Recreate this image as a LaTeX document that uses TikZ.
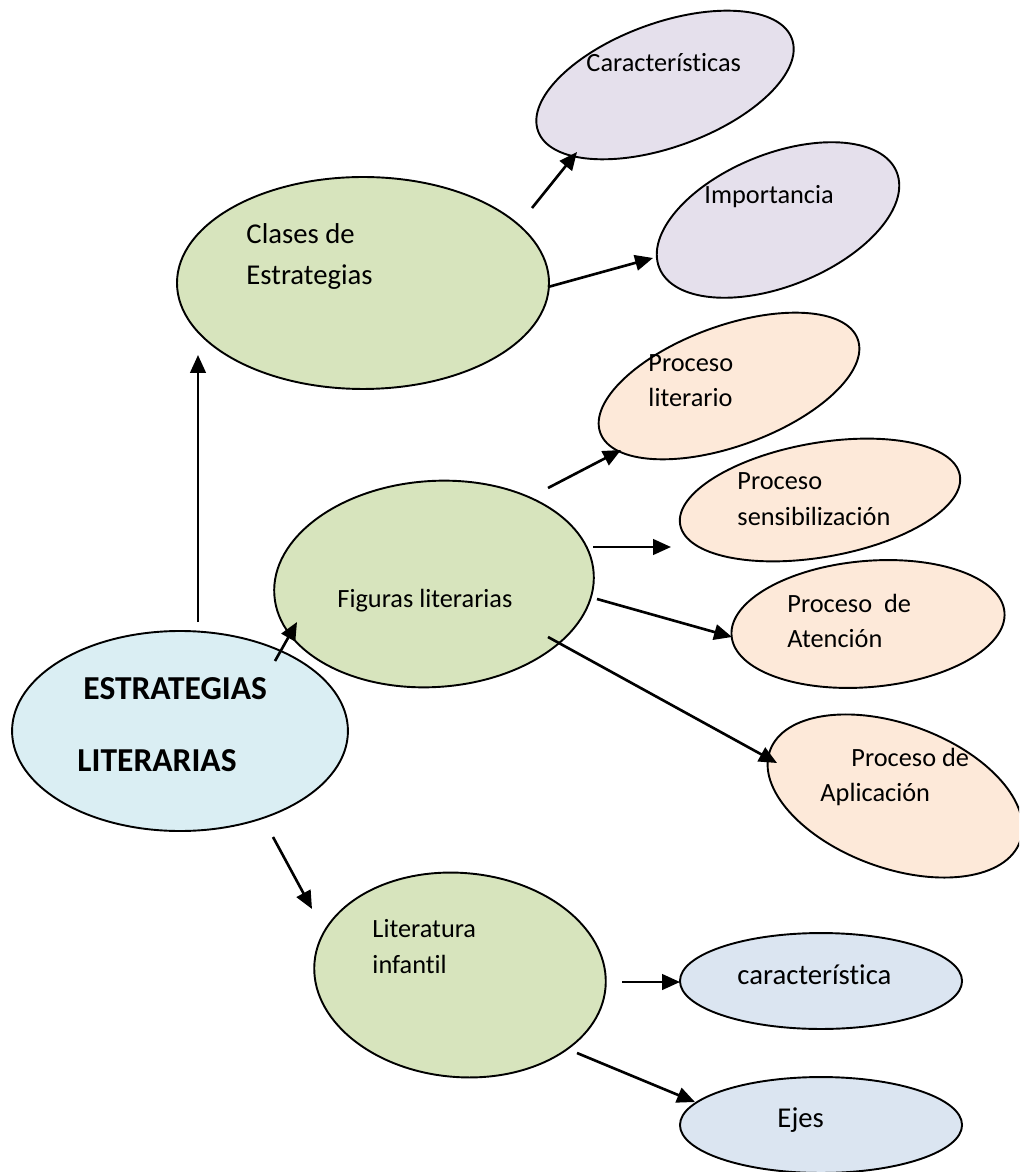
\documentclass[tikz,border=0pt]{standalone}
\usepackage{fontspec}
\setmainfont{Carlito}[Ligatures=NoCommon]
\usetikzlibrary{shapes.geometric,arrows.meta}
\definecolor{verde}{HTML}{D7E4BD}
\definecolor{celeste}{HTML}{DAEEF3}
\definecolor{lila}{HTML}{E5E0EC}
\definecolor{durazno}{HTML}{FDE9D9}
\definecolor{azulgris}{HTML}{DBE5F1}
\tikzstyle{bubble} = [ellipse, draw = black, line width = 0.8pt, inner sep = 0pt]
\tikzstyle{main} = [bubble, fill = celeste, minimum width = 140.4pt, minimum height = 83.6pt]
\tikzstyle{rama} = [bubble, fill = verde]
\tikzstyle{clase} = [bubble, fill = lila]
\tikzstyle{proceso} = [bubble, fill = durazno]
\tikzstyle{hoja} = [bubble, fill = azulgris, minimum width = 117.9pt, minimum height = 40.1pt]
\tikzstyle{txt} = [anchor = base west, inner sep = 0pt, font = \fontsize{11}{13}\selectfont]
\tikzstyle{txtbig} = [txt, font = \fontsize{12}{14}\selectfont]
\tikzstyle{arrow} = [line width = 1.1pt, -{Triangle[length = 7.5pt, width = 6.5pt]}]

\begin{document}
\begin{tikzpicture}[x = 0.418pt, y = -0.418pt]
	\clip (0,0) rectangle (1019,1172);

	\node[main] (estr) at (180,731) {};
	\node[rama, minimum width = 155.5pt, minimum height = 88.6pt] (clases) at (363,283) {};
	\node[rama, minimum width = 133.8pt, minimum height = 86.1pt, rotate = 4] (figuras) at (434,584) {};
	\node[rama, minimum width = 122.1pt, minimum height = 85.3pt, rotate = -5] (lit) at (460,975) {};
	\node[clase, minimum width = 112.9pt, minimum height = 51.8pt, rotate = 20] (carac) at (665,85) {};
	\node[clase, minimum width = 107pt, minimum height = 55.2pt, rotate = 22] (import) at (778,220) {};
	\node[proceso, minimum width = 114.5pt, minimum height = 50.2pt, rotate = 20] (plit) at (729,386) {};
	\node[proceso, minimum width = 118.7pt, minimum height = 47.7pt, rotate = 10] (psens) at (820,500) {};
	\node[proceso, minimum width = 114.5pt, minimum height = 52.7pt, rotate = 5] (paten) at (868,624) {};
	\node[proceso, minimum width = 111.2pt, minimum height = 60.2pt, rotate = -20] (papl) at (895,796) {};
	\node[hoja] (caract) at (821,981) {};
	\node[hoja] (ejes) at (821,1125) {};

	% textos
	\node[txt, font = \fontsize{14}{16}\bfseries] (estr-1) at (83,699) {ESTRATEGIAS};
	\node[txt, font = \fontsize{14}{16}\bfseries] (estr-2) at (77,771) {LITERARIAS};
	\node[txtbig] (clases-1) at (246,244) {Clases de};
	\node[txtbig] (clases-2) at (246,285) {Estrategias};
	\node[txt] (figuras-1) at (337,607) {Figuras literarias};
	\node[txt] (lit-1) at (372,937) {Literatura};
	\node[txt] (lit-2) at (372,973) {infantil};
	\node[txt] (carac-1) at (586,72) {Características};
	\node[txt] (import-1) at (704,204) {Importancia};
	\node[txt] (plit-1) at (648,372) {Proceso};
	\node[txt] (plit-2) at (648,407) {literario};
	\node[txt] (psens-1) at (737,490) {Proceso};
	\node[txt] (psens-2) at (737,525) {sensibilización};
	\node[txt] (paten-1) at (787,612) {Proceso \ de};
	\node[txt] (paten-2) at (787,647) {Atención};
	\node[txt] (papl-1) at (851,766) {Proceso de};
	\node[txt] (papl-2) at (820,801) {Aplicación};
	\node[txtbig] (caract-1) at (737,984) {característica};
	\node[txtbig] (ejes-1) at (777,1127) {Ejes};

	\draw [arrow]([shift = {(18,-109)}]estr.center)--([shift = {(-165,72)}]clases.center);
	\draw [arrow]([shift = {(95,-70)}]estr.center)--([shift = {(-137,38)}]figuras.center);
	\draw [arrow]([shift = {(93,106)}]estr.center)--([shift = {(-148,-66)}]lit.center);
	\draw [arrow]([shift = {(169,-75)}]clases.center)--([shift = {(-88,67)}]carac.center);
	\draw [arrow]([shift = {(185,4)}]clases.center)--([shift = {(-125,38)}]import.center);
	\draw [arrow]([shift = {(114,-96)}]figuras.center)--([shift = {(-108,64)}]plit.center);
	\draw [arrow]([shift = {(159,-37)}]figuras.center)--([shift = {(-149,47)}]psens.center);
	\draw [arrow]([shift = {(163,15)}]figuras.center)--([shift = {(-136,13)}]paten.center);
	\draw [arrow]([shift = {(114,53)}]figuras.center)--([shift = {(-118,-33)}]papl.center);
	\draw [arrow]([shift = {(162,7)}]lit.center)--([shift = {(-141,1)}]caract.center);
	\draw [arrow]([shift = {(117,78)}]lit.center)--([shift = {(-126,-23)}]ejes.center);

\end{tikzpicture}
\end{document}
